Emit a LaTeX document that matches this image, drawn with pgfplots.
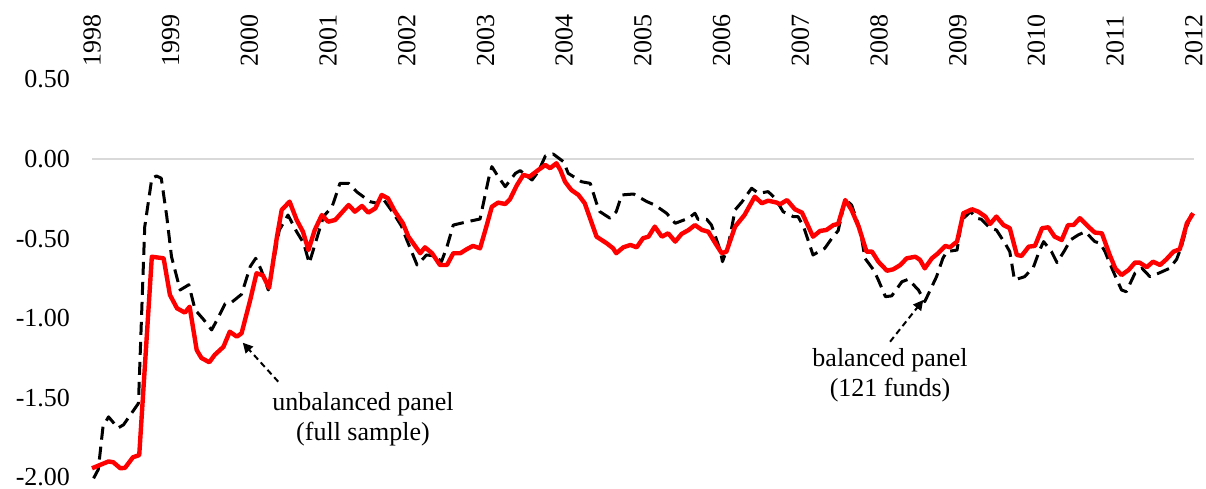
\documentclass[border=0pt]{standalone}
\usepackage{fontspec}
\setmainfont{Liberation Serif}
\usepackage{pgfplots}
\pgfplotsset{compat=1.18}
\usetikzlibrary{arrows.meta}

\definecolor{zeroline}{RGB}{217,217,217}

\begin{document}
\begin{tikzpicture}
\begin{axis}[
  scale only axis,
  width=551pt, height=199pt,
  xmin=1998, xmax=2012,
  ymin=-2, ymax=0.5,
  clip=false,
  axis line style={draw=none},
  major tick length=0pt,
  xtick={1998,1999,...,2012},
  xticklabels={1998,1999,2000,2001,2002,2003,2004,2005,2006,2007,2008,2009,2010,2011,2012},
  xticklabel pos=upper,
  xticklabel style={yshift=3pt, rotate=90, anchor=west},
  ytick={-2,-1.5,-1,-0.5,0,0.5},
  yticklabels={-2.00,-1.50,-1.00,-0.50,0.00,0.50},
  yticklabel style={xshift=-7.5pt},
  ticklabel style={font=\fontsize{13}{15}\selectfont},
  extra y ticks={0},
  extra y tick labels={},
  extra y tick style={grid=major, major grid style={zeroline, line width=1pt}},
]
% balanced panel (121 funds)
\addplot[black, line width=1.5pt, dash pattern=on 6.5pt off 3.5pt, line join=round] coordinates {
(1998.02,-2.006) (1998.08,-1.95) (1998.14,-1.68) (1998.21,-1.62) (1998.33,-1.69)
(1998.40,-1.67) (1998.59,-1.535) (1998.67,-0.425) (1998.76,-0.121) (1998.82,-0.107)
(1998.88,-0.121) (1998.95,-0.362) (1999.01,-0.614) (1999.12,-0.823) (1999.23,-0.79)
(1999.31,-0.948) (1999.42,-1.01) (1999.52,-1.074) (1999.60,-1.00) (1999.69,-0.91)
(1999.77,-0.902) (1999.90,-0.85) (2000.01,-0.676) (2000.08,-0.624) (2000.15,-0.697)
(2000.24,-0.823) (2000.38,-0.446) (2000.49,-0.352) (2000.60,-0.457) (2000.69,-0.53)
(2000.76,-0.655) (2000.94,-0.362) (2001.05,-0.30) (2001.15,-0.153) (2001.26,-0.153)
(2001.36,-0.205) (2001.53,-0.268) (2001.62,-0.278) (2001.68,-0.237) (2001.83,-0.341)
(2001.93,-0.42) (2002.00,-0.509) (2002.13,-0.666) (2002.25,-0.603) (2002.36,-0.609)
(2002.44,-0.645) (2002.51,-0.551) (2002.59,-0.415) (2002.77,-0.394) (2002.93,-0.377)
(2003.04,-0.121) (2003.08,-0.048) (2003.16,-0.111) (2003.25,-0.174) (2003.38,-0.09)
(2003.44,-0.073) (2003.59,-0.132) (2003.67,-0.08) (2003.76,0.019) (2003.86,0.031)
(2003.99,-0.017) (2004.05,-0.09) (2004.22,-0.143) (2004.33,-0.153) (2004.41,-0.278)
(2004.45,-0.33) (2004.58,-0.372) (2004.66,-0.331) (2004.73,-0.226) (2004.88,-0.22)
(2005.05,-0.268) (2005.15,-0.289) (2005.30,-0.341) (2005.41,-0.404) (2005.58,-0.372)
(2005.66,-0.341) (2005.70,-0.379) (2005.81,-0.379) (2005.87,-0.415) (2005.98,-0.572)
(2006.01,-0.645) (2006.08,-0.551) (2006.13,-0.425) (2006.17,-0.32) (2006.26,-0.268)
(2006.38,-0.184) (2006.47,-0.216) (2006.59,-0.205) (2006.68,-0.247) (2006.78,-0.331)
(2006.91,-0.362) (2006.97,-0.362) (2007.04,-0.425) (2007.16,-0.603) (2007.31,-0.561)
(2007.40,-0.498) (2007.48,-0.45) (2007.57,-0.253) (2007.65,-0.289) (2007.76,-0.446)
(2007.82,-0.624) (2007.93,-0.697) (2007.99,-0.76) (2008.08,-0.865) (2008.16,-0.86)
(2008.29,-0.771) (2008.37,-0.756) (2008.50,-0.823) (2008.58,-0.896) (2008.73,-0.739)
(2008.81,-0.624) (2008.86,-0.582) (2008.99,-0.572) (2009.05,-0.383) (2009.16,-0.331)
(2009.24,-0.372) (2009.30,-0.379) (2009.41,-0.435) (2009.49,-0.446) (2009.60,-0.53)
(2009.66,-0.582) (2009.72,-0.76) (2009.85,-0.739) (2009.96,-0.68) (2010.04,-0.572)
(2010.09,-0.519) (2010.19,-0.582) (2010.26,-0.651) (2010.36,-0.572) (2010.43,-0.509)
(2010.53,-0.477) (2010.62,-0.457) (2010.74,-0.519) (2010.81,-0.53) (2010.87,-0.582)
(2010.93,-0.655) (2011.00,-0.735) (2011.08,-0.823) (2011.14,-0.834) (2011.25,-0.718)
(2011.34,-0.687) (2011.44,-0.739) (2011.55,-0.718) (2011.69,-0.687) (2011.78,-0.63)
(2011.84,-0.551) (2011.91,-0.425) (2011.99,-0.316)
};
% unbalanced panel (full sample)
\addplot[red, line width=2.2pt, line join=round] coordinates {
(1998.00,-1.943) (1998.21,-1.90) (1998.27,-1.905) (1998.36,-1.943) (1998.42,-1.94)
(1998.52,-1.874) (1998.60,-1.86) (1998.76,-0.614) (1998.91,-0.624) (1998.99,-0.854)
(1999.08,-0.938) (1999.18,-0.965) (1999.24,-0.928) (1999.33,-1.20) (1999.39,-1.25)
(1999.49,-1.277) (1999.56,-1.23) (1999.67,-1.18) (1999.75,-1.085) (1999.84,-1.116)
(1999.90,-1.095) (2000.01,-0.886) (2000.09,-0.718) (2000.17,-0.73) (2000.25,-0.81)
(2000.35,-0.488) (2000.41,-0.32) (2000.51,-0.268) (2000.60,-0.383) (2000.68,-0.457)
(2000.75,-0.572) (2000.83,-0.446) (2000.92,-0.352) (2001.00,-0.394) (2001.09,-0.383)
(2001.26,-0.289) (2001.34,-0.331) (2001.43,-0.295) (2001.51,-0.337) (2001.60,-0.31)
(2001.68,-0.226) (2001.76,-0.247) (2001.85,-0.331) (2001.95,-0.404) (2002.02,-0.488)
(2002.17,-0.592) (2002.23,-0.555) (2002.32,-0.592) (2002.42,-0.666) (2002.51,-0.666)
(2002.59,-0.592) (2002.68,-0.592) (2002.76,-0.567) (2002.84,-0.546) (2002.93,-0.561)
(2003.01,-0.425) (2003.08,-0.30) (2003.16,-0.274) (2003.25,-0.283) (2003.31,-0.253)
(2003.40,-0.163) (2003.48,-0.10) (2003.56,-0.111) (2003.67,-0.069) (2003.76,-0.038)
(2003.82,-0.058) (2003.90,-0.027) (2003.95,-0.069) (2004.01,-0.143) (2004.09,-0.195)
(2004.18,-0.226) (2004.26,-0.278) (2004.41,-0.488) (2004.54,-0.53) (2004.62,-0.561)
(2004.66,-0.592) (2004.75,-0.555) (2004.84,-0.54) (2004.92,-0.555) (2005.00,-0.498)
(2005.07,-0.488) (2005.15,-0.425) (2005.24,-0.488) (2005.32,-0.467) (2005.41,-0.519)
(2005.49,-0.471) (2005.58,-0.446) (2005.66,-0.415) (2005.75,-0.446) (2005.83,-0.457)
(2005.92,-0.53) (2006.00,-0.592) (2006.06,-0.582) (2006.17,-0.425) (2006.29,-0.352)
(2006.42,-0.237) (2006.51,-0.278) (2006.59,-0.262) (2006.70,-0.274) (2006.74,-0.285)
(2006.83,-0.258) (2006.93,-0.316) (2007.02,-0.337) (2007.16,-0.488) (2007.25,-0.452)
(2007.33,-0.446) (2007.42,-0.415) (2007.48,-0.408) (2007.57,-0.258) (2007.65,-0.32)
(2007.74,-0.425) (2007.84,-0.582) (2007.91,-0.582) (2007.99,-0.645) (2008.10,-0.702)
(2008.18,-0.693) (2008.27,-0.666) (2008.35,-0.624) (2008.46,-0.614) (2008.52,-0.634)
(2008.58,-0.687) (2008.67,-0.624) (2008.75,-0.592) (2008.84,-0.546) (2008.90,-0.555)
(2008.99,-0.519) (2009.07,-0.341) (2009.18,-0.316) (2009.26,-0.331) (2009.35,-0.362)
(2009.41,-0.408) (2009.49,-0.362) (2009.58,-0.415) (2009.66,-0.435) (2009.75,-0.603)
(2009.81,-0.609) (2009.90,-0.551) (2009.98,-0.546) (2010.07,-0.435) (2010.15,-0.429)
(2010.23,-0.488) (2010.32,-0.509) (2010.40,-0.415) (2010.47,-0.415) (2010.55,-0.372)
(2010.68,-0.435) (2010.74,-0.462) (2010.83,-0.467) (2010.93,-0.603) (2011.00,-0.687)
(2011.08,-0.729) (2011.17,-0.697) (2011.25,-0.651) (2011.31,-0.651) (2011.40,-0.68)
(2011.48,-0.645) (2011.57,-0.666) (2011.65,-0.63) (2011.74,-0.582) (2011.82,-0.567)
(2011.91,-0.404) (2011.99,-0.341)
};
% annotations
\draw[black, line width=1pt, dash pattern=on 3pt off 2pt, -{Triangle[length=5pt,width=5pt]}]
  (axis cs:2000.366,-1.399) -- (axis cs:1999.915,-1.154);
\node[font=\fontsize{13}{15}\selectfont, align=center] at (axis cs:2001.443,-1.633)
  {unbalanced panel\\(full sample)};
\draw[black, line width=1pt, dash pattern=on 3pt off 2pt, -{Triangle[length=5pt,width=5pt]}]
  (axis cs:2008.139,-1.148) -- (axis cs:2008.561,-0.886);
\node[font=\fontsize{13}{15}\selectfont, align=center] at (axis cs:2008.139,-1.357)
  {balanced panel\\(121 funds)};
% page frame matching the reference's margins
\coordinate (pagebl) at (axis cs:1996.831,-2.073);
\coordinate (pagetr) at (axis cs:2012.153,0.9987);
\end{axis}
\pgfresetboundingbox
\path[use as bounding box] (pagebl) rectangle (pagetr);
\end{tikzpicture}
\end{document}
